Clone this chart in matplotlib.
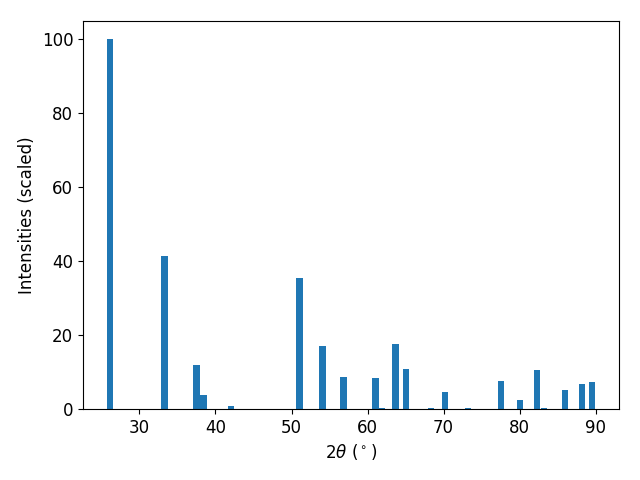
import matplotlib
matplotlib.use("Agg")
import matplotlib.pyplot as plt

two_theta = [26.18, 33.29, 37.5, 38.42, 42.1, 51.05, 54.08, 56.84, 61.05, 61.84,
             63.68, 65.0, 68.3, 70.13, 73.16, 77.5, 80.0, 82.24, 83.16, 85.92,
             88.16, 89.47]
intensity = [100.0, 41.5, 12.0, 3.8, 0.8, 35.5, 17.1, 8.7, 8.4, 0.3,
             17.7, 10.9, 0.3, 4.6, 0.3, 7.6, 2.4, 10.6, 0.3, 5.2,
             6.8, 7.3]

plt.rcParams['font.size'] = 12
fig, ax = plt.subplots(figsize=(6.4, 4.8), dpi=100)
ax.bar(two_theta, intensity, width=0.8, color='#1f77b4')
ax.set_xlabel(r'$2\theta$ ($^\circ$)')
ax.set_ylabel('Intensities (scaled)')
fig.subplots_adjust(left=83/640, right=619/640, top=1-21/480, bottom=1-409/480)
fig.savefig('out.png', dpi=100)
